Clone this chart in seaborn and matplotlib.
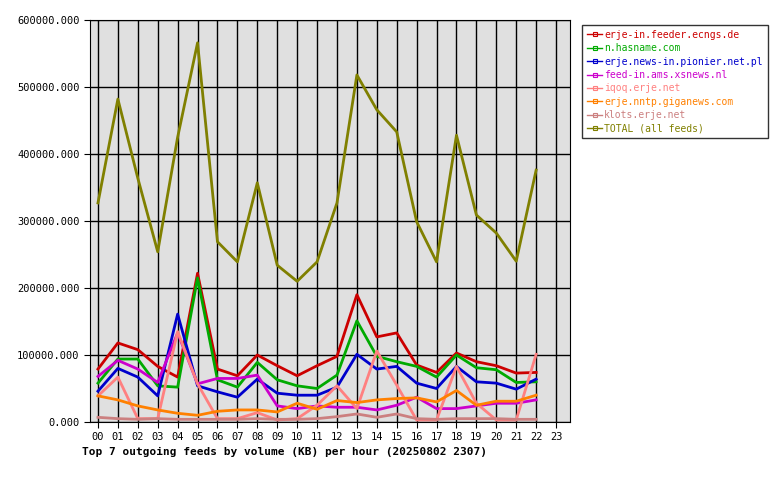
import pandas as pd
import matplotlib
matplotlib.use('Agg')
import matplotlib.pyplot as plt
import seaborn as sns

hours = list(range(23))
hour_labels = [f"{h:02d}" for h in range(24)]

feeds = ['erje-in.feeder.ecngs.de', 'n.hasname.com', 'erje.news-in.pionier.net.pl',
         'feed-in.ams.xsnews.nl', 'iqoq.erje.net', 'erje.nntp.giganews.com',
         'klots.erje.net', 'TOTAL (all feeds)']
colors = ['#cc0000', '#00aa00', '#0000cc', '#cc00cc', '#ff8080', '#ff8000', '#cc8080', '#808000']

ecngs    = [79, 118, 108, 83, 67, 222, 79, 69, 100, 84, 69, 84, 98, 190, 127, 133, 85, 74, 103, 90, 84, 73, 74]
hasname  = [58, 94, 94, 54, 52, 215, 63, 52, 89, 63, 54, 50, 70, 151, 98, 90, 83, 67, 100, 81, 78, 59, 60]
pionier  = [46, 80, 67, 39, 161, 54, 45, 37, 64, 43, 40, 40, 52, 101, 79, 83, 58, 50, 83, 60, 58, 49, 64]
xsnews   = [68, 92, 79, 59, 133, 57, 65, 65, 70, 24, 20, 24, 22, 22, 18, 25, 37, 20, 20, 24, 28, 28, 33]
iqoq     = [39, 67, 5, 5, 135, 57, 5, 5, 14, 3, 5, 25, 54, 20, 106, 55, 3, 3, 83, 28, 3, 3, 101]
giganews = [39, 33, 24, 18, 13, 10, 16, 18, 18, 15, 28, 19, 32, 29, 33, 35, 36, 30, 47, 25, 31, 31, 40]
klots    = [7, 5, 4, 5, 4, 4, 4, 4, 5, 4, 4, 5, 8, 12, 7, 12, 5, 4, 5, 5, 5, 4, 4]
total    = [327, 482, 364, 254, 425, 566, 269, 239, 357, 234, 210, 239, 327, 518, 466, 433, 299, 239, 428, 309, 282, 240, 376]

series = [ecngs, hasname, pionier, xsnews, iqoq, giganews, klots, total]
rows = []
for name, vals in zip(feeds, series):
    for h, v in zip(hours, vals):
        rows.append({'hour': h, 'kb': v * 1000, 'feed': name})
df = pd.DataFrame(rows)

plt.rcParams['font.family'] = 'DejaVu Sans Mono'
plt.rcParams['font.size'] = 7.5

fig = plt.figure(figsize=(7.8, 4.8), dpi=100)
ax = fig.add_axes([90 / 780, 58 / 480, 480 / 780, 402 / 480])
ax.set_facecolor('#e0e0e0')

sns.lineplot(data=df, x='hour', y='kb', hue='feed', hue_order=feeds,
             palette=colors, linewidth=2, ax=ax, legend=False)

ax.set_xlim(-0.4, 23.7)
ax.set_ylim(0, 600000)
ax.set_xticks(range(24))
ax.set_xticklabels(hour_labels)
ax.set_yticks(range(0, 600001, 100000))
ax.set_yticklabels([f"{v}.000" for v in range(0, 600001, 100000)])
ax.grid(True, color='black', linewidth=1)
ax.set_axisbelow(True)
ax.tick_params(direction='out', length=4, color='black')
for s in ax.spines.values():
    s.set_color('black')
ax.set_xlabel('')
ax.set_ylabel('')

handles = [plt.Line2D([], [], color=c, lw=1, marker='s', markersize=3,
                      markerfacecolor='none', markeredgewidth=0.8) for c in colors]
leg = fig.legend(handles, feeds, loc='upper left', bbox_to_anchor=(577 / 780, 1 - 20 / 480),
                 frameon=True, fancybox=False, edgecolor='black', handlelength=1.6,
                 handletextpad=0.2, labelspacing=0.35, borderpad=0.5, fontsize=7)
leg.get_frame().set_linewidth(1)
for t, c in zip(leg.get_texts(), colors):
    t.set_color(c)

fig.text(82 / 780, 1 - 452 / 480, 'Top 7 outgoing feeds by volume (KB) per hour (20250802 2307)',
         fontweight='bold', va='center', ha='left', fontsize=8)

fig.savefig('out.png', dpi=100)
